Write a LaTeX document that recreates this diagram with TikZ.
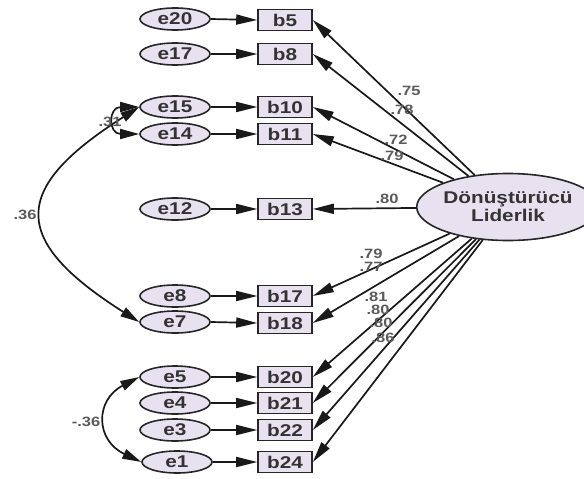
\documentclass[tikz,border=0pt]{standalone}
\usepackage{fontspec}
\setmainfont{Liberation Sans}[FakeStretch=1.22]
\usetikzlibrary{shapes.geometric,arrows.meta}
\definecolor{nodefill}{HTML}{E8E2F0}
\definecolor{inktext}{HTML}{333333}
\definecolor{coef}{HTML}{5A5A5A}
\tikzset{
  evar/.style={ellipse, draw=black!85, line width=1.6pt, fill=nodefill,
    minimum width=70pt, minimum height=22pt, inner sep=0pt,
    font=\fontsize{17}{17}\selectfont\bfseries, text=inktext},
  obs/.style={rectangle, draw=black!85, line width=1.6pt, fill=nodefill,
    minimum width=54pt, minimum height=21pt, inner sep=0pt,
    font=\fontsize{17}{17}\selectfont\bfseries, text=inktext},
  latent/.style={ellipse, draw=black!85, line width=1.6pt, fill=nodefill,
    minimum width=150pt, minimum height=67pt, inner sep=0pt, align=center,
    font=\fontsize{17}{18}\selectfont\bfseries, text=inktext},
  path/.style={draw=black!90, line width=1.7pt,
    -{Triangle[length=21pt,width=10pt]}},
  cov/.style={draw=black!90, line width=1.7pt,
    {Triangle[length=19pt,width=10pt]}-{Triangle[length=19pt,width=10pt]}},
  coeflab/.style={font=\fontsize{13.5}{13.5}\selectfont\bfseries, text=coef, inner sep=0pt},
}
\begin{document}
\begin{tikzpicture}[x=1pt,y=-1pt]
\useasboundingbox (0,0) rectangle (584,479);

% latent factor
\node[latent] (L) at (508,207) {Dönüştürücü\\Liderlik};

% error terms
\node[evar] (e20) at (175,19)  {e20};
\node[evar] (e17) at (175,54)  {e17};
\node[evar] (e15) at (175,107) {e15};
\node[evar] (e14) at (175,134) {e14};
\node[evar] (e12) at (175,209) {e12};
\node[evar] (e8)  at (175,296) {e8};
\node[evar] (e7)  at (175,322) {e7};
\node[evar] (e5)  at (175,377) {e5};
\node[evar] (e4)  at (175,403) {e4};
\node[evar] (e3)  at (175,430) {e3};
\node[evar] (e1)  at (177,462) {e1};

% observed items
\node[obs] (b5)  at (285,20)  {b5};
\node[obs] (b8)  at (285,54)  {b8};
\node[obs] (b10) at (285,107) {b10};
\node[obs] (b11) at (285,134) {b11};
\node[obs] (b13) at (285,209) {b13};
\node[obs] (b17) at (285,296) {b17};
\node[obs] (b18) at (285,323) {b18};
\node[obs] (b20) at (285,377) {b20};
\node[obs] (b21) at (285,403) {b21};
\node[obs] (b22) at (285,430) {b22};
\node[obs] (b24) at (285,462) {b24};

% error -> item paths
\foreach \e/\b in {e20/b5,e17/b8,e15/b10,e14/b11,e12/b13,e8/b17,e7/b18,e5/b20,e4/b21,e3/b22,e1/b24}
  \draw[path] (\e.east) -- (\b.west);

% factor loadings
\foreach \b in {b5,b8,b10,b11,b13,b17,b18,b20,b21,b22,b24}
  \draw[path] (L) -- (\b.east);

\node[coeflab] (l5)  at (409,91)  {.75};
\node[coeflab] (l8)  at (402,110) {.78};
\node[coeflab] (l10) at (396,140) {.72};
\node[coeflab] (l11) at (392,156) {.79};
\node[coeflab] (l13) at (387,199) {.80};
\node[coeflab] (l17) at (371,254) {.79};
\node[coeflab] (l18) at (371,267) {.77};
\node[coeflab] (l20) at (376,297) {.81};
\node[coeflab] (l21) at (378,310) {.80};
\node[coeflab] (l22) at (381,323) {.80};
\node[coeflab] (l24) at (383,338) {.86};

% error covariances
\draw[cov] (e15.west) .. controls (108,107) and (108,134) .. (e14.west);
\draw[cov] (e15.west) .. controls (10,189) and (10,240) .. (e7.west);
\draw[cov] (e5.west) .. controls (95,400) and (95,440) .. (e1.west);

\node[coeflab] (c31) at (110,122) {.31};
\node[coeflab] (c36) at (25,215)  {.36};
\node[coeflab] (c36n) at (86,422) {-.36};
\end{tikzpicture}
\end{document}
